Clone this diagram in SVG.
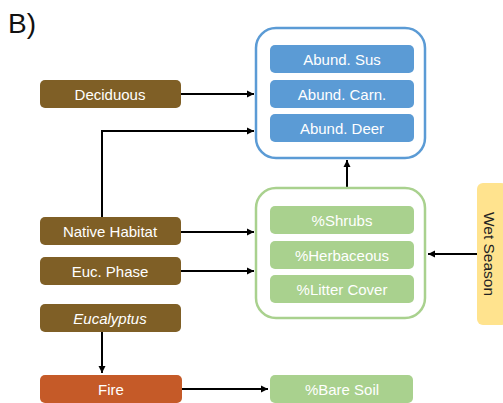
<svg xmlns="http://www.w3.org/2000/svg" width="503" height="403" viewBox="0 0 503 403">
  <defs>
    <marker id="arrow" markerWidth="8" markerHeight="8" refX="7" refY="4" orient="auto" markerUnits="userSpaceOnUse">
      <path d="M0,0.5 L7,4 L0,7.5 Z" fill="#000"/>
    </marker>
    <style>
      .driver { fill: #7F5F26; }
      .fire { fill: #C55A28; }
      .blue { fill: #5B9BD5; }
      .green { fill: #A9D18E; }
      .frame-blue { fill: #fff; stroke: #5B9BD5; stroke-width: 2.5; }
      .frame-green { fill: #fff; stroke: #A9D18E; stroke-width: 2.5; }
      .lbl { font-family: "Liberation Sans", Arial, sans-serif; font-size: 15px; fill: #fff; text-anchor: middle; dominant-baseline: central; }
      .edge { fill: none; stroke: #000; stroke-width: 2; marker-end: url(#arrow); }
    </style>
  </defs>
  <rect width="503" height="403" fill="#fff"/>
  <text x="8" y="33" font-family="Liberation Sans, Arial, sans-serif" font-size="28" fill="#111">B)</text>

  <g id="connectors">
    <path class="edge" d="M181,94 H254"/>
    <path class="edge" d="M102,217 V131 H254"/>
    <path class="edge" d="M181,232 H254"/>
    <path class="edge" d="M181,271 H254"/>
    <path class="edge" d="M102,332 V373"/>
    <path class="edge" d="M182,389 H268"/>
    <path class="edge" d="M347,206 V160"/>
    <path class="edge" d="M477,254 H428"/>
  </g>

  <g id="animals">
    <rect class="frame-blue" x="256" y="28" width="169" height="130" rx="20"/>
    <g id="sus"><rect class="blue" x="270" y="45" width="144" height="28" rx="5"/><text class="lbl" x="342" y="59">Abund. Sus</text></g>
    <g id="carn"><rect class="blue" x="270" y="80" width="144" height="28" rx="5"/><text class="lbl" x="342" y="94">Abund. Carn.</text></g>
    <g id="deer"><rect class="blue" x="270" y="114" width="144" height="28" rx="5"/><text class="lbl" x="342" y="128">Abund. Deer</text></g>
  </g>

  <g id="vegetation">
    <rect class="frame-green" x="256" y="188" width="169" height="130" rx="20"/>
    <g id="shrubs"><rect class="green" x="270" y="206" width="144" height="28" rx="5"/><text class="lbl" x="342" y="220">%Shrubs</text></g>
    <g id="herb"><rect class="green" x="270" y="241" width="144" height="28" rx="5"/><text class="lbl" x="342" y="255">%Herbaceous</text></g>
    <g id="litter"><rect class="green" x="270" y="275" width="144" height="28" rx="5"/><text class="lbl" x="342" y="289">%Litter Cover</text></g>
  </g>

  <g id="deciduous"><rect class="driver" x="40" y="80" width="141" height="28" rx="5"/><text class="lbl" x="110" y="94">Deciduous</text></g>
  <g id="native"><rect class="driver" x="40" y="217" width="141" height="28" rx="5"/><text class="lbl" x="110" y="231">Native Habitat</text></g>
  <g id="eucphase"><rect class="driver" x="40" y="257" width="141" height="28" rx="5"/><text class="lbl" x="110" y="271">Euc. Phase</text></g>
  <g id="eucalyptus"><rect class="driver" x="40" y="304" width="141" height="28" rx="5"/><text class="lbl" x="110" y="318" font-style="italic">Eucalyptus</text></g>
  <g id="fire"><rect class="fire" x="40" y="375" width="142" height="28" rx="5"/><text class="lbl" x="111" y="389">Fire</text></g>
  <g id="baresoil"><rect class="green" x="270" y="375" width="143" height="28" rx="5"/><text class="lbl" x="342" y="389">%Bare Soil</text></g>

  <g id="wetseason">
    <rect x="477" y="183" width="30" height="142" rx="6" fill="#FFE38E"/>
    <text x="489" y="254" transform="rotate(90 489 254)" font-family="Liberation Sans, Arial, sans-serif" font-size="15.5" fill="#222" text-anchor="middle" dominant-baseline="central">Wet Season</text>
  </g>
</svg>
